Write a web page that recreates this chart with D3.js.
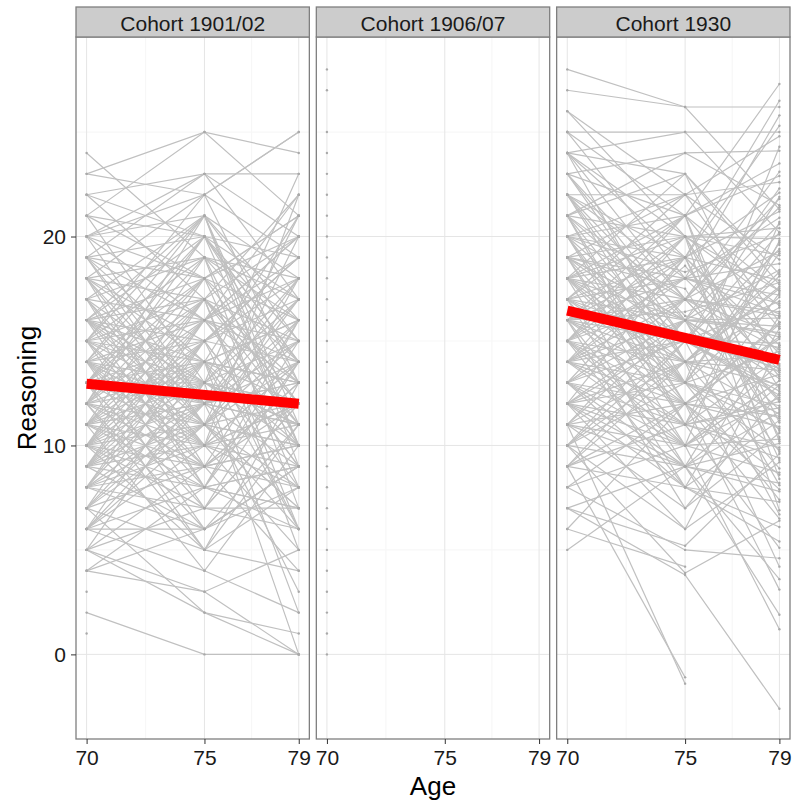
<!DOCTYPE html>
<html>
<head>
<meta charset="utf-8">
<script src="https://cdn.jsdelivr.net/npm/d3@7"></script>
<style>
  body { margin: 0; background: #fff; }
  text { font-family: "Liberation Sans", Arial, sans-serif; }
</style>
</head>
<body>
<div id="chart"></div>
<script>
// facets
const cohorts = ["Cohort 1901/02", "Cohort 1906/07", "Cohort 1930"];
const ages = [70, 75, 79];
const xTicks = [70, 75, 79];
const xMinor = [72.5, 77];
const yTicks = [0, 10, 20];
const yMinor = [5, 15, 25];

// reasoning score per person at age 70, 75, 79 (null = not measured)
const c1901 = [
  [23,25,24],[24,19,14],[23,22,25],[22,23,20],[21,25,21],[22,17,22],[21,20,13],[20,23,23],
  [20,16,18],[20,21,15],[19,23,17],[19,18,21],[19,14,12],[19,20,19],[18,22,25],[18,15,17],
  [18,19,10],[18,17,20],[18,12,14],[17,21,16],[17,16,22],[17,13,11],[17,19,18],[17,10,9],
  [16,20,14],[16,15,19],[16,17,12],[16,11,16],[16,14,8],[16,18,21],[15,17,15],[15,12,13],
  [15,19,17],[15,14,6],[15,9,12],[15,16,20],[15,21,11],[14,15,14],[14,11,17],[14,18,12],
  [14,13,10],[14,16,19],[14,8,7],[14,20,15],[13,14,13],[13,17,11],[13,10,14],[13,15,18],
  [13,12,9],[13,19,16],[13,7,12],[13,13,23],[12,16,13],[12,11,15],[12,14,10],[12,9,8],
  [12,18,14],[12,13,17],[12,6,11],[11,13,12],[11,15,9],[11,10,14],[11,17,13],[11,8,6],
  [11,12,18],[11,14,2],[10,12,11],[10,9,13],[10,14,16],[10,11,7],[10,16,10],[10,7,12],
  [10,13,0],[9,11,10],[9,13,12],[9,8,14],[9,15,9],[9,10,5],[9,12,15],[8,10,8],
  [8,12,11],[8,6,9],[8,14,13],[8,9,4],[8,11,12],[7,9,10],[7,11,6],[7,13,11],
  [7,5,8],[6,8,7],[6,10,12],[6,6,9],[6,12,3],[5,7,6],[5,9,10],[5,3,0],
  [4,6,8],[4,3,5],[4,8,9],[2,0,0],[3,null,null],[1,null,null],[5,2,0],[17,null,null],
  [14,12,null],[12,null,null],[20,18,null],[9,6,null],[16,13,null],[11,9,null],[19,16,15],[21,18,16],
  [15,13,11],[13,11,10],[10,8,9],[18,14,13],[12,10,12],[14,10,11],[16,12,13],[8,7,7],
  [6,4,2],[22,20,17],[20,22,19],[7,2,1],[10,5,4],
  [20,12,17],[12,20,10],[8,16,14],[16,8,15],[14,21,9],[10,18,20],[18,9,13],[6,14,16],
  [13,5,11],[11,19,7],[17,11,20],[9,17,12],[15,7,14],[7,15,19],[19,11,8],[12,21,18],
  [14,6,9],[10,17,5],[16,10,22],[13,20,14],[11,4,10],[5,13,15],[21,13,18],[8,15,6],
  [15,22,13],[17,8,16],[9,14,21],[12,5,13],[18,11,7],[6,11,14],[13,18,8],[10,15,19],
  [14,9,16],[16,21,10],[11,16,20],[7,12,16],[19,12,21],[15,10,18],[12,17,6],[9,16,11]
];

// the 1906/07 cohort was only tested at 70
const c1906 = [
  [0,null,null],[1,null,null],[2,null,null],[3,null,null],[4,null,null],[5,null,null],
  [6,null,null],[7,null,null],[8,null,null],[9,null,null],[10,null,null],[11,null,null],
  [12,null,null],[13,null,null],[14,null,null],[15,null,null],[16,null,null],[17,null,null],
  [18,null,null],[19,null,null],[20,null,null],[21,null,null],[22,null,null],[23,null,null],
  [24,null,null],[25,null,null],[27,null,null],[28,null,null]
];

const c1930 = [
  [28,26.2,26.2],[27,26.2,21.3],[26,20,17.4],[25,25,25],[25,21,27.3],[24,19,26.5],[24,23,18.2],[24,17,21.8],
  [23,21,15.6],[23,15,19.4],[23,24,24.1],[22,18,16.3],[22,22,22.6],[22,14,11.5],[21,20,20.4],[21,16,13.2],
  [21,23,17.7],[21,12,15.1],[20,19,21.2],[20,17,14.6],[20,22,18.9],[20,13,9.8],[20,21,23.5],[19,18,16.8],
  [19,15,12.4],[19,20,19.9],[19,11,14.2],[19,16,20.6],[18,17,15.3],[18,20,12.7],[18,14,17.5],[18,19,22.1],
  [18,12,8.6],[18,16,16.1],[17,16,18.4],[17,13,11.9],[17,19,14.8],[17,10,10.3],[17,18,20.9],[17,15,6.7],
  [16,15,13.7],[16,18,17.2],[16,12,15.8],[16,20,11.1],[16,9,12.9],[16,17,19.3],[16,14,4.2],[15,14,16.6],
  [15,17,12.2],[15,11,9.4],[15,19,17.9],[15,13,14.5],[15,8,7.3],[14,13,10.8],[14,16,15.4],[14,10,13.1],
  [14,18,18.7],[14,12,3.1],[14,15,12.6],[13,12,11.4],[13,15,14.1],[13,9,8.2],[13,17,16.4],[13,11,19.8],
  [12,11,9.9],[12,14,13.6],[12,8,6.1],[12,16,11.7],[12,13,17.1],[11,10,12.3],[11,14,8.9],[11,7,10.6],
  [11,12,15.9],[10,9,7.8],[10,13,11.3],[10,6,9.2],[10,15,14.9],[9,8,5.4],[9,11,12.1],[9,14,17.6],
  [8,10,8.7],[8,5,4.6],[7,9,10.1],[7,3.8,-2.6],[6,12,13.4],[5,9,1.9],[9,-1.1,null],[11,-1.4,null],
  [24,25,20.2],[19,22,24.8],[17,21,22.9],[16,19,25.3],[15,20,19.1],[21,24,21.5],[18,23,13.8],[13,16,22.3],
  [22,19,10.4],[20,15,16.9],[14,11,5.1],[12,10,1.2],[16,13,7.4],[18,15,12.8],[15,12,10.9],[17,14,14.3],
  [19,16,15.7],[13,10,13.9],[11,9,11.6],[23,17,16.2],[21,14,18.1],[26,22,null],[25,null,19.6],[24,null,null],
  [6,4.2,null],[7,5.2,9.6],[10,3.9,6.4],[14,18.6,13.3],[16,16.4,17.8],[12,15.3,14.7],[19,17.5,10.7],[22,16.2,15.2],
  [20,18.3,20.1],
  [18,9,16.2],[12,19,9.3],[22,13,19.7],[10,16,13.5],[15,21,8.4],[20,11,17.3],[9,15,20.2],[24,14,12.9],
  [14,20,6.9],[17,8,15.6],[11,17,21.4],[21,11,11.8],[13,19,14.4],[16,7,12.5],[19,13,24.3],[8,12,15.2],
  [23,16,9.7],[12,6,14.8],[25,18,13.6],[15,10,20.7],[18,21,10.2],[20,12,7.9],[14,17,23.1],[17,22,15.9],
  [10,14,18.3],[22,15,21.9],[13,8,11.2],[16,21,17.4],[19,10,13.1],[11,16,8.1],[21,17,12.1],[15,18,25.8],
  [12,9,3.6],[18,13,19.2],[24,20,16.7],[9,12,6.5]
];

// fitted trend (age, reasoning) at both ends
const fit1901 = [[70, 12.95], [79, 12.0]];
const fit1906 = [];
const fit1930 = [[70, 16.45], [79, 14.1]];

const people = [c1901, c1906, c1930];
const fits = [fit1901, fit1906, fit1930];

render(document.querySelector("#chart"));

function render(element) {
    const width = 796, height = 807;
    let margin = { top: 7, right: 6, bottom: 68, left: 76 };
    const stripH = 30;

    let svg = d3.select(element)
        .append("svg")
        .attr("width", width)
        .attr("height", height);

    let panels = d3.scaleBand()
        .domain(cohorts)
        .range([margin.left, width - margin.right])
        .paddingInner(0.029);

    const pw = panels.bandwidth();
    const top = margin.top + stripH;
    const bottom = height - margin.bottom;

    let x = d3.scaleLinear().domain([69.55, 79.45]).range([0, pw]);
    let y = d3.scaleLinear().domain([-4.05, 29.55]).range([bottom, top]);

    let line = d3.line()
        .defined(d => d[1] !== null)
        .x(d => x(d[0]))
        .y(d => y(d[1]));

    cohorts.forEach((c, i) => {
        let g = svg.append("g")
            .attr("transform", "translate(" + panels(c) + ",0)");

        // background + grid
        g.append("rect")
            .attr("x", 0).attr("y", top)
            .attr("width", pw).attr("height", bottom - top)
            .attr("fill", "#fff");

        g.selectAll(".yminor").data(yMinor).enter().append("line")
            .attr("x1", 0).attr("x2", pw)
            .attr("y1", d => y(d)).attr("y2", d => y(d))
            .attr("stroke", "#f7f7f7").attr("stroke-width", 1.2);
        g.selectAll(".xminor").data(xMinor).enter().append("line")
            .attr("x1", d => x(d)).attr("x2", d => x(d))
            .attr("y1", top).attr("y2", bottom)
            .attr("stroke", "#f7f7f7").attr("stroke-width", 1.2);
        g.selectAll(".ymajor").data(yTicks).enter().append("line")
            .attr("x1", 0).attr("x2", pw)
            .attr("y1", d => y(d)).attr("y2", d => y(d))
            .attr("stroke", "#e5e5e5").attr("stroke-width", 1);
        g.selectAll(".xmajor").data(xTicks).enter().append("line")
            .attr("x1", d => x(d)).attr("x2", d => x(d))
            .attr("y1", top).attr("y2", bottom)
            .attr("stroke", "#e5e5e5").attr("stroke-width", 1);

        // individual trajectories
        let rows = people[i].map(r => r.map((v, k) => [ages[k], v]));

        g.selectAll(".person").data(rows).enter().append("path")
            .attr("d", line)
            .attr("fill", "none")
            .attr("stroke", "#c0c0c0")
            .attr("stroke-width", 1.2);

        let pts = [];
        rows.forEach(r => r.forEach(p => { if (p[1] !== null) pts.push(p); }));
        g.selectAll(".pt").data(pts).enter().append("circle")
            .attr("cx", d => x(d[0]))
            .attr("cy", d => y(d[1]))
            .attr("r", 1.2)
            .attr("fill", "#a9a9a9");

        // trend line
        if (fits[i].length) {
            g.append("path")
                .datum(fits[i])
                .attr("d", d3.line().x(d => x(d[0])).y(d => y(d[1])))
                .attr("fill", "none")
                .attr("stroke", "#ff0000")
                .attr("stroke-width", 10);
        }

        // border
        g.append("rect")
            .attr("x", 0).attr("y", top)
            .attr("width", pw).attr("height", bottom - top)
            .attr("fill", "none")
            .attr("stroke", "#7f7f7f").attr("stroke-width", 1.3);

        // strip
        g.append("rect")
            .attr("x", 0).attr("y", margin.top)
            .attr("width", pw).attr("height", stripH)
            .attr("fill", "#cccccc")
            .attr("stroke", "#7f7f7f").attr("stroke-width", 1.3);
        g.append("text")
            .attr("x", pw / 2).attr("y", margin.top + 23.5)
            .attr("text-anchor", "middle")
            .style("font-size", "21px")
            .attr("fill", "#1a1a1a")
            .text(c);

        // x axis
        let xa = g.append("g")
            .attr("transform", "translate(0," + bottom + ")")
            .call(d3.axisBottom(x).tickValues(xTicks).tickSize(5).tickPadding(6).tickFormat(d3.format("d")));
        xa.select(".domain").remove();
        xa.selectAll("line").attr("stroke", "#333");
        xa.selectAll("text").style("font-size", "21px").attr("fill", "#1a1a1a");

        if (i === 0) {
            let ya = g.append("g")
                .call(d3.axisLeft(y).tickValues(yTicks).tickSize(5).tickPadding(5));
            ya.select(".domain").remove();
            ya.selectAll("line").attr("stroke", "#333");
            ya.selectAll("text").style("font-size", "21px").attr("fill", "#1a1a1a");
        }
    });

    // axis titles
    svg.append("text")
        .attr("x", (panels.range()[0] + panels.range()[1]) / 2)
        .attr("y", 795)
        .attr("text-anchor", "middle")
        .style("font-size", "26px")
        .text("Age");

    svg.append("text")
        .attr("transform", "translate(36," + ((top + bottom) / 2) + ") rotate(-90)")
        .attr("text-anchor", "middle")
        .style("font-size", "26px")
        .text("Reasoning");
}
</script>
</body>
</html>
